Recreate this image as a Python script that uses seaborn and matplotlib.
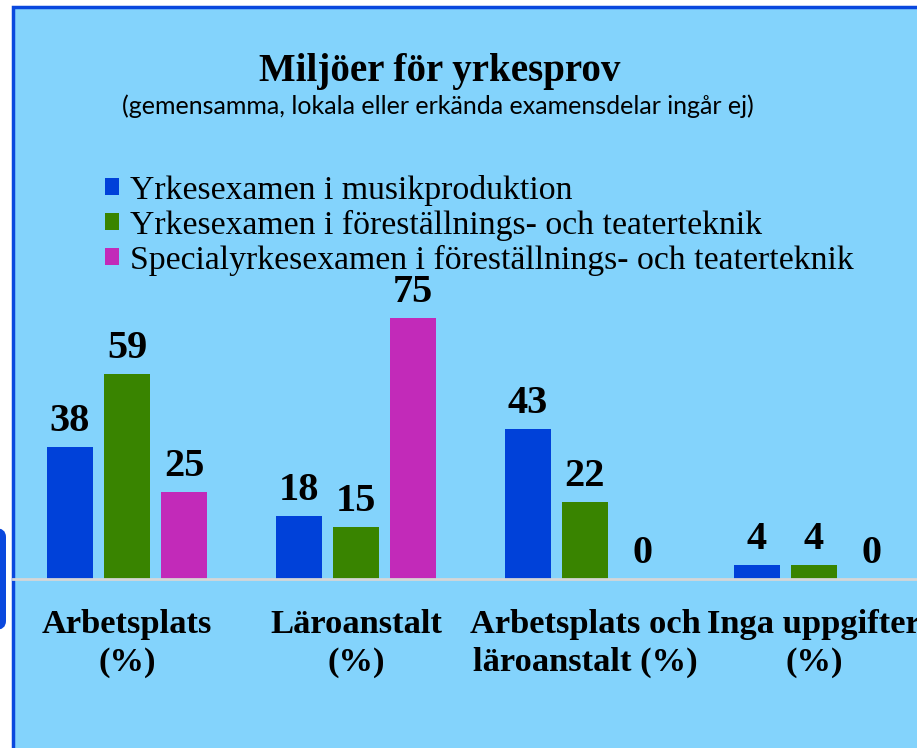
import matplotlib
matplotlib.use("Agg")
import matplotlib.pyplot as plt
from matplotlib.patches import Rectangle, FancyBboxPatch
import seaborn as sns
import pandas as pd

categories = ["Arbetsplats\n(%)", "Läroanstalt\n(%)",
              "Arbetsplats och\nläroanstalt (%)", "Inga uppgifter\n(%)"]
series = ["Yrkesexamen i musikproduktion",
          "Yrkesexamen i föreställnings- och teaterteknik",
          "Specialyrkesexamen i föreställnings- och teaterteknik"]
musik = [38, 18, 43, 4]
teater = [59, 15, 22, 4]
special = [25, 75, 0, 0]

colors = ["#0041D9", "#398400", "#C22AB9"]
bg = "#83D3FC"
border = "#0A48DE"

rows = []
for name, vals in zip(series, [musik, teater, special]):
    for cat, v in zip(categories, vals):
        rows.append({"kategori": cat, "serie": name, "andel": v})
df = pd.DataFrame(rows)

W, H = 917, 748
fig = plt.figure(figsize=(W / 100, H / 100), dpi=100)
fig.patch.set_facecolor("white")

# panel background + border
fig.patches.append(Rectangle((12.5 / W, -0.1), 1.0, 1 - 7.5 / H + 0.1,
                             transform=fig.transFigure, facecolor=bg,
                             edgecolor=border, linewidth=2.5, zorder=-2))
fig.patches.append(FancyBboxPatch((-20 / W, 1 - 630 / H), 26 / W, 102 / H,
                                  boxstyle="round,pad=0,rounding_size=0.012",
                                  transform=fig.transFigure, facecolor=border,
                                  edgecolor="none", zorder=-2))

ax = fig.add_axes([12.5 / W, 1 - 579 / H, 916 / W, 289 / H])
ax.set_facecolor("none")
ax.set_zorder(1)

sns.barplot(data=df, x="kategori", y="andel", hue="serie", order=categories,
            hue_order=series, palette=colors, width=0.747, gap=0.2,
            linewidth=0, saturation=1, ax=ax)

for cont in ax.containers:
    ax.bar_label(cont, padding=5, fontsize=29, fontweight="bold",
                 family="Liberation Serif")

ax.set_xlim(-0.5, 3.5)
ax.set_ylim(0, 83.05)
ax.set_xlabel("")
ax.set_ylabel("")
ax.set_yticks([])
ax.set_xticks(range(len(categories)))
ax.set_xticklabels(categories, fontsize=24.8, fontweight="bold",
                   family="Liberation Serif", linespacing=1.28)
ax.tick_params(axis="x", length=0, pad=21.5)
for s in ["top", "right", "left"]:
    ax.spines[s].set_visible(False)
ax.spines["bottom"].set_color("#D6D6D6")
ax.spines["bottom"].set_linewidth(2)

leg = ax.legend(loc="upper left", bbox_to_anchor=(105 / W, 1 - 175 / H),
                bbox_transform=fig.transFigure, frameon=False,
                prop={"family": "Liberation Serif", "size": 24.3},
                handlelength=0.4, handleheight=0.4, handletextpad=0.33,
                labelspacing=0.11, borderpad=0, borderaxespad=0)

fig.text(440 / W, 1 - 72 / H, "Miljöer för yrkesprov", ha="center",
         va="center", fontsize=28, fontweight="bold", family="Liberation Serif")
fig.text(438 / W, 1 - 106 / H,
         "(gemensamma, lokala eller erkända examensdelar ingår ej)",
         ha="center", va="center", fontsize=18, family="Lato")

fig.savefig("out.png", dpi=100, facecolor=fig.get_facecolor())
